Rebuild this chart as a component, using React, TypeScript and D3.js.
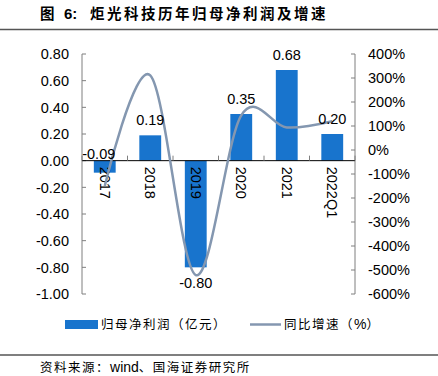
import React from "react";
import * as d3 from "d3";

const categories = ["2017", "2018", "2019", "2020", "2021", "2022Q1"];
const netProfit = [-0.09, 0.19, -0.8, 0.35, 0.68, 0.2];
const growthPct = [-150, 311, -521, 144, 94, 120];
const leftTicks = [-1.0, -0.8, -0.6, -0.4, -0.2, 0, 0.2, 0.4, 0.6, 0.8];
const rightTicks = [-600, -500, -400, -300, -200, -100, 0, 100, 200, 300, 400];

const W = 438;
const H = 376;
const BAR = "#1874CD";
const LINE = "#8497B0";
const AXIS = "#7f7f7f";
const NUM_FONT = "'Liberation Sans', Arial, sans-serif";
const CJK_FONT = "'Noto Sans CJK SC', 'Liberation Sans', sans-serif";

export default function App() {
  const left = 82;
  const right = 355;
  const top = 54;
  const bottom = 294;

  const x = d3
    .scaleBand<string>()
    .domain(categories)
    .range([left, right])
    .paddingInner(0.52)
    .paddingOuter(0.26);
  const yL = d3.scaleLinear().domain([-1, 0.8]).range([bottom, top]);
  const yR = d3.scaleLinear().domain([-600, 400]).range([bottom, top]);
  const step = x.step();
  const cx = (c: string) => (x(c) as number) + x.bandwidth() / 2;

  const line = d3
    .line<number>()
    .x((_, i) => cx(categories[i]))
    .y((d) => yR(d))
    .curve(d3.curveCardinal.tension(0));

  const boundaries = d3.range(categories.length + 1).map((i) => left + i * step);

  return (
    <svg
      width={W}
      height={H}
      style={{ position: "absolute", left: 0, top: 0, background: "#fff" }}
    >
      {/* Title */}
      <g fontFamily={CJK_FONT} fontWeight="bold" fontSize={14.5} fill="#000">
        <text x={40} y={18.5}>图</text>
        <text x={64} y={18.5} fontFamily={NUM_FONT} fontSize={15}>6:</text>
        <text x={90} y={18.5} letterSpacing={2.5}>炬光科技历年归母净利润及增速</text>
      </g>
      <line x1={0} x2={W} y1={29.5} y2={29.5} stroke="#555" strokeWidth={1.5} />

      {/* Left axis */}
      <line x1={left} x2={left} y1={top} y2={bottom} stroke={AXIS} />
      {leftTicks.map((t) => (
        <g key={"l" + t}>
          <line x1={left} x2={left + 4} y1={yL(t)} y2={yL(t)} stroke={AXIS} />
          <text
            x={69}
            y={yL(t)}
            dy="0.36em"
            textAnchor="end"
            fontFamily={NUM_FONT}
            fontSize={14.5}
            fill="#000"
          >
            {t.toFixed(2)}
          </text>
        </g>
      ))}

      {/* Right axis */}
      <line x1={right} x2={right} y1={top} y2={bottom} stroke={AXIS} />
      {rightTicks.map((t) => (
        <g key={"r" + t}>
          <line x1={right - 4} x2={right} y1={yR(t)} y2={yR(t)} stroke={AXIS} />
          <text
            x={368}
            y={yR(t)}
            dy="0.36em"
            textAnchor="start"
            fontFamily={NUM_FONT}
            fontSize={14.5}
            fill="#000"
          >
            {t + "%"}
          </text>
        </g>
      ))}

      {/* Bars */}
      {categories.map((c, i) => {
        const v = netProfit[i];
        const y0 = yL(0);
        const y1 = yL(v);
        return (
          <rect
            key={"b" + c}
            x={x(c)}
            y={Math.min(y0, y1)}
            width={x.bandwidth()}
            height={Math.abs(y1 - y0)}
            fill={BAR}
          />
        );
      })}

      {/* Zero line and category ticks */}
      <line x1={left} x2={right} y1={yL(0)} y2={yL(0)} stroke="#000" strokeWidth={1} />
      {boundaries.map((b, i) => (
        <line key={"bt" + i} x1={b} x2={b} y1={yL(0) - 5} y2={yL(0)} stroke={AXIS} />
      ))}

      {/* Category labels */}
      {categories.map((c) => (
        <text
          key={"c" + c}
          transform={`translate(${cx(c)},${yL(0) + 6}) rotate(90)`}
          textAnchor="start"
          dy="0.36em"
          fontFamily={NUM_FONT}
          fontSize={14.5}
          fill="#000"
        >
          {c}
        </text>
      ))}

      {/* Growth line */}
      <path d={line(growthPct) || ""} fill="none" stroke={LINE} strokeWidth={2.5} />

      {/* Value labels */}
      {categories.map((c, i) => {
        const v = netProfit[i];
        let ly: number;
        let lx = cx(c);
        if (v >= 0) ly = yL(v) - 10;
        else if (v > -0.2) {
          ly = yL(0) - 2;
          lx = cx(c) - 6;
        } else ly = yL(v) + 21;
        return (
          <text
            key={"v" + c}
            x={lx}
            y={ly}
            textAnchor="middle"
            fontFamily={NUM_FONT}
            fontSize={14.5}
            fill="#000"
          >
            {v.toFixed(2)}
          </text>
        );
      })}

      {/* Legend */}
      <rect x={65} y={320} width={33} height={9} fill={BAR} />
      <text x={101} y={329} fontFamily={CJK_FONT} fontSize={12.5} letterSpacing={1.5} fill="#000">
        归母净利润（亿元）
      </text>
      <line x1={250} x2={281} y1={324.5} y2={324.5} stroke={LINE} strokeWidth={2.5} />
      <text x={284} y={329} fontFamily={CJK_FONT} fontSize={12.5} letterSpacing={1.5} fill="#000">
        同比增速（
        <tspan fontFamily={NUM_FONT} fontSize={14} letterSpacing={0}>%</tspan>
        ）
      </text>

      {/* Footer */}
      <line x1={0} x2={W} y1={355} y2={355} stroke="#555" strokeWidth={1.5} />
      <text x={40} y={371.5} fontFamily={CJK_FONT} fontSize={12.5} letterSpacing={1.5} fill="#000">
        资料来源：
        <tspan fontFamily={NUM_FONT} fontSize={14} letterSpacing={0}>wind</tspan>
        、国海证券研究所
      </text>
    </svg>
  );
}
